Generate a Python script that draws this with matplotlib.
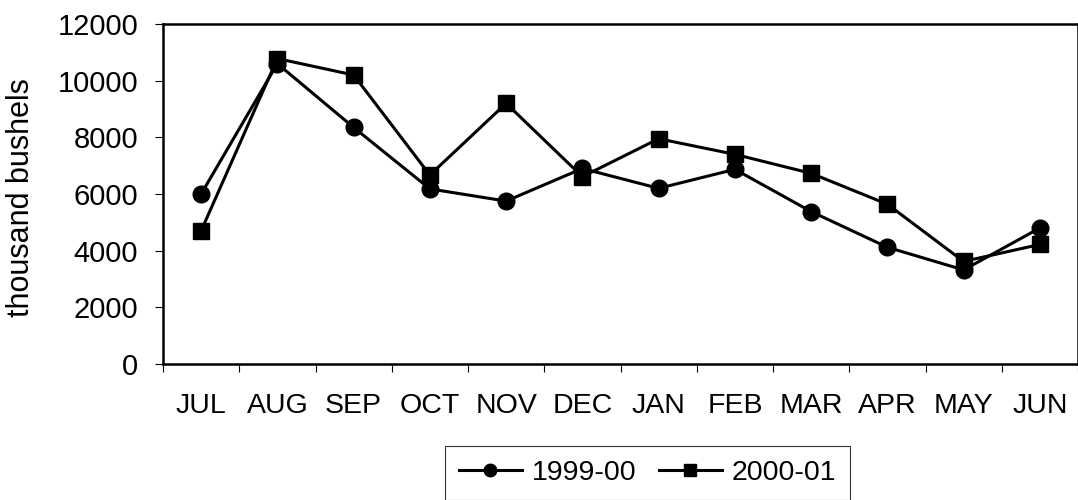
import matplotlib
matplotlib.use("Agg")
import matplotlib.pyplot as plt
import numpy as np

plt.rcParams['font.family'] = ['Liberation Sans', 'DejaVu Sans']

months = ['JUL', 'AUG', 'SEP', 'OCT', 'NOV', 'DEC',
          'JAN', 'FEB', 'MAR', 'APR', 'MAY', 'JUN']
season_9900 = [6000, 10600, 8350, 6180, 5750, 6900,
               6200, 6870, 5380, 4120, 3320, 4800]
season_0001 = [4700, 10780, 10200, 6670, 9200, 6610,
               7950, 7400, 6730, 5640, 3620, 4220]
yticks = [0, 2000, 4000, 6000, 8000, 10000, 12000]


def plot_exports():
    fig = plt.figure(figsize=(10.78, 5.0), dpi=100)
    ax = fig.add_axes([163 / 1078, 136 / 500, 915 / 1078, 340 / 500])

    x = np.arange(len(months))
    ax.plot(x, season_9900, color='black', lw=2.2, marker='o', ms=12,
            label='1999-00')
    ax.plot(x, season_0001, color='black', lw=2.2, marker='s', ms=11.5,
            label='2000-01')

    ax.set_xlim(-0.5, len(months) - 0.5)
    ax.set_ylim(0, 12000)
    ax.set_yticks(yticks)
    ax.set_yticklabels([str(v) for v in yticks])

    # ticks sit on the month boundaries, labels in the middle
    ax.set_xticks(np.arange(len(months) + 1) - 0.5)
    ax.set_xticklabels([])
    ax.set_xticks(x, minor=True)
    ax.set_xticklabels(months, minor=True)
    ax.tick_params(axis='x', which='major', direction='out', length=6,
                   width=0.8)
    ax.tick_params(axis='x', which='minor', length=0, pad=21, labelsize=20.5)
    ax.tick_params(axis='y', direction='out', length=6, width=0.8, pad=12,
                   labelsize=21)

    for s in ax.spines.values():
        s.set_linewidth(1.8)

    fig.text(21.5 / 1078, 0.605, 'thousand bushels', rotation=90,
             ha='center', va='center', fontsize=22)

    leg = fig.legend(loc='upper center', bbox_to_anchor=(647.5 / 1078, 0.108),
                     ncol=2, fontsize=20.5, frameon=True, fancybox=False,
                     edgecolor='black', markerscale=0.75, handlelength=2.2,
                     handletextpad=0.35, columnspacing=0.8, borderpad=0.5,
                     borderaxespad=0)
    leg.get_frame().set_linewidth(0.8)

    fig.savefig('out.png', dpi=100, facecolor='white')


if __name__ == '__main__':
    plot_exports()
